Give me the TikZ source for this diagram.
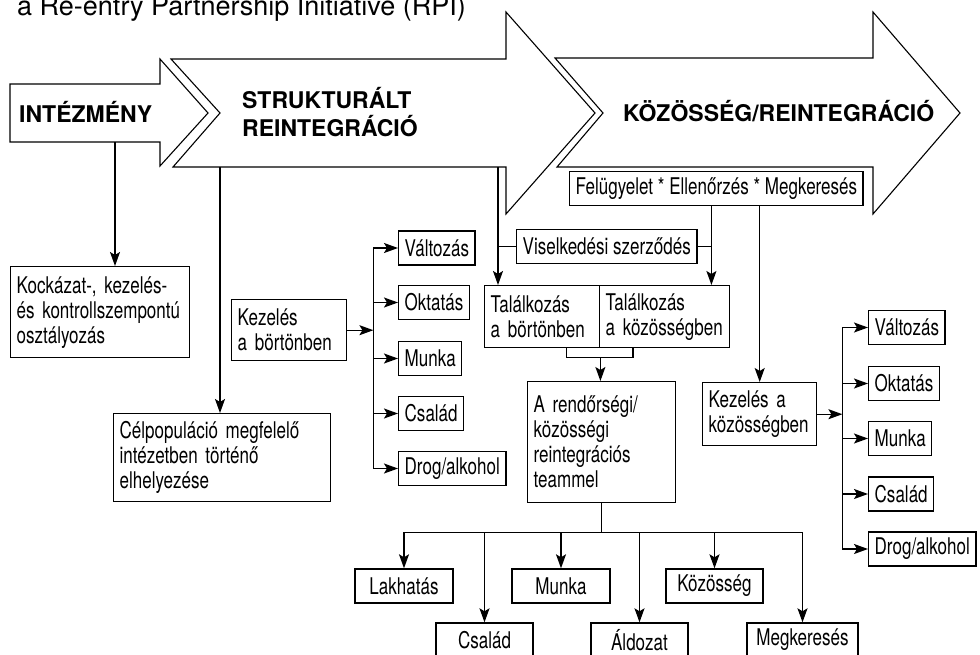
\documentclass[tikz,border=0pt]{standalone}
\usepackage{fontspec}
\setmainfont{TeX Gyre Heros}
\newfontfamily\szukfont[FakeStretch=0.74]{TeX Gyre Heros}
\usepackage{tikz}
\usetikzlibrary{arrows.meta,calc}

\tikzset{
  nyil/.style={line width=1.1pt, line join=miter},
  kapcs/.style={line width=1.4pt},
  doboz/.style={draw, line width=1.4pt, inner xsep=6pt, inner ysep=0pt, minimum height=34pt,
    font=\szukfont\fontsize{23}{25}\selectfont},
  tobbsoros/.style={doboz, anchor=north west, align=left},
  kis/.style={doboz, anchor=west},
  also/.style={doboz, anchor=center},
  fejlec/.style={inner sep=0pt, font=\bfseries\fontsize{23}{28}\selectfont},
}

\begin{document}
\begin{tikzpicture}[x=1pt, y=-1pt, >={Stealth[length=14pt,width=10pt,inset=3pt]}]
\useasboundingbox (0,0) rectangle (980,654);

\node[anchor=base west, inner sep=0pt, font=\fontsize{27}{30}\selectfont] (cim) at (17,15)
  {a Re-entry Partnership Initiative (RPI)};

\draw[nyil] (10,84) -- (160,84) -- (160,59) -- (208,113) -- (160,166) -- (160,142) -- (10,142) -- cycle;
\draw[nyil] (171,59) -- (506,59) -- (506,12) -- (595,113) -- (506,214) -- (506,167) -- (173,167) -- (220,113) -- cycle;
\draw[nyil] (555,58) -- (873,58) -- (873,12) -- (960,113) -- (873,214) -- (873,167) -- (557,167) -- (603,113) -- cycle;

\node[fejlec, anchor=base west] (intezmeny) at (19,122) {INTÉZMÉNY};
\node[fejlec, anchor=west, align=left] (strukturalt) at (242,112) {STRUKTURÁLT\\REINTEGRÁCIÓ};
\node[fejlec, anchor=base west] (kozosseg) at (623,121) {KÖZÖSSÉG/REINTEGRÁCIÓ};

\coordinate (intezmeny-ki) at (115,142);
\coordinate (strukt-ki1) at (220,167);
\coordinate (strukt-ki2) at (498,167);

\node[tobbsoros, text width=167pt, minimum height=91pt] (kockazat) at (10,266)
  {Kockázat-, kezelés-\\és kontrollszempontú\\osztályozás};
\node[tobbsoros, text width=205pt, minimum height=88pt] (celpop) at (113,413)
  {Célpopuláció megfelelő\\intézetben történő\\elhelyezése};
\node[tobbsoros, text width=103pt, minimum height=61pt] (kezbort) at (231,299) {Kezelés\\a börtönben};

\node[kis] (valt1) at (398,248) {Változás};
\node[kis] (okt1) at (398,302.5) {Oktatás};
\node[kis] (munka1) at (398,358.5) {Munka};
\node[kis] (csal1) at (398,413.5) {Család};
\node[kis] (drog1) at (398,468.5) {Drog/alkohol};

\node[kis] (felugyelet) at (569,188.5) {Felügyelet * Ellenőrzés * Megkeresés};
\node[kis] (viselkedes) at (516,246.5) {Viselkedési szerződés};
\node[tobbsoros, text width=103pt, minimum height=62pt] (talbort) at (484,285) {Találkozás\\a börtönben};
\node[tobbsoros, text width=118pt, minimum height=62pt] (talkoz) at (599,285) {Találkozás\\a közösségben};
\node[tobbsoros, text width=136pt, minimum height=121pt] (csapat) at (527,381)
  {A rendőrségi/\\közösségi\\reintegrációs\\teammel};
\node[tobbsoros, text width=102pt, minimum height=63pt] (kezkoz) at (702,382) {Kezelés a\\közösségben};

\node[kis] (valt2) at (868,327.5) {Változás};
\node[kis] (okt2) at (868,383.5) {Oktatás};
\node[kis] (munka2) at (868,438.5) {Munka};
\node[kis] (csal2) at (868,494) {Család};
\node[kis] (drog2) at (868,549) {Drog/alkohol};

\node[also, minimum width=98pt] (lakhatas) at (404,586) {Lakhatás};
\node[also, minimum width=98pt] (munka3) at (561,586) {Munka};
\node[also, minimum width=97pt] (kozosseg3) at (714.5,586) {Közösség};
\node[also, minimum width=97pt] (csal3) at (484.5,640) {Család};
\node[also, minimum width=97pt] (aldozat) at (639.5,640) {Áldozat};
\node[also, minimum width=111pt] (megkereses) at (802.5,640) {Megkeresés};

\coordinate (felu-bal) at ([xshift=-5pt]felugyelet.south);
\coordinate (bal-sin) at ($(kezbort.east)+(26,0)$);
\coordinate (jobb-sin) at ($(kezkoz.east)+(25,0)$);
\coordinate (tal-kozep) at ($(talbort.south east)+(0,9)$);

\path[->, kapcs]
  (intezmeny-ki) edge (intezmeny-ki |- kockazat.north)
  (strukt-ki1) edge (strukt-ki1 |- celpop.north)
  (strukt-ki2) edge (strukt-ki2 |- talbort.north)
  (felu-bal) edge (felu-bal |- talkoz.north)
  (kezkoz.north |- felugyelet.south) edge (kezkoz.north)
  (viselkedes.west) edge[-] (viselkedes.west -| strukt-ki2)
  (viselkedes.east) edge[-] (viselkedes.east -| felu-bal)
  (kezbort.east) edge (bal-sin)
  (kezkoz.east) edge (jobb-sin)
  (tal-kozep) edge (tal-kozep |- csapat.north);

\draw[kapcs] ($(talbort.south east)+(-34,0)$) -- ++(0,9) -| ($(talkoz.south west)+(34,0)$);
\draw[kapcs] (bal-sin |- valt1.west) -- (bal-sin |- drog1.west);
\draw[kapcs] (jobb-sin |- valt2.west) -- (jobb-sin |- drog2.west);
\foreach \d in {valt1,okt1,munka1,csal1,drog1}
  \draw[kapcs, ->] (bal-sin |- \d.west) -- (\d.west);
\foreach \d in {valt2,okt2,munka2,csal2,drog2}
  \draw[kapcs, ->] (jobb-sin |- \d.west) -- (\d.west);

\draw[kapcs] (csapat.south) -- ++(0,29) coordinate (csapat-sin);
\draw[kapcs] (csapat-sin -| lakhatas.north) -- (csapat-sin -| megkereses.north);
\foreach \d in {lakhatas,csal3,munka3,aldozat,kozosseg3,megkereses}
  \draw[kapcs, ->] (csapat-sin -| \d.north) -- (\d.north);
\end{tikzpicture}
\end{document}
